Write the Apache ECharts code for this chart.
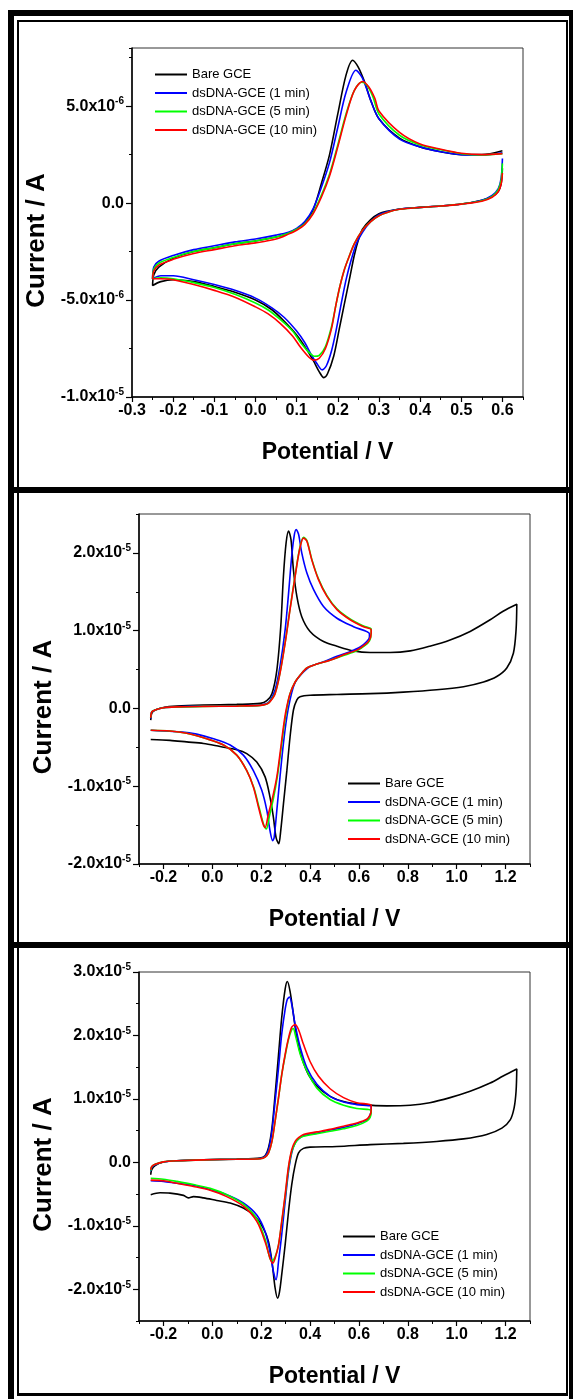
<!DOCTYPE html>
<html>
<head>
<meta charset="utf-8">
<title>CV dsDNA-GCE</title>
<script src="https://cdn.jsdelivr.net/npm/echarts@6/dist/echarts.min.js"></script>
<style>
  html, body { margin: 0; padding: 0; background: #fff; }
  #chart { width: 573px; height: 1399px; }
</style>
</head>
<body>
<div id="chart"></div>
<script>
// current values are in µA (x 1e-6 A), potentials in V; each curve is listed in scan order
const names = ['Bare GCE', 'dsDNA-GCE (1 min)', 'dsDNA-GCE (5 min)', 'dsDNA-GCE (10 min)'];
const colors = ['#000000', '#0000ff', '#00ff00', '#ff0000'];

// panel 1 tick labels
const p1XTicks = [-0.3, -0.2, -0.1, 0.0, 0.1, 0.2, 0.3, 0.4, 0.5, 0.6];
const p1YTicks = [-10, -5, 0, 5];
// panels 2 and 3 tick labels
const p23XTicks = [-0.2, 0.0, 0.2, 0.4, 0.6, 0.8, 1.0, 1.2];
const p2YTicks = [-20, -10, 0, 10, 20];
const p3YTicks = [-20, -10, 0, 10, 20, 30];

// panel 1
const p1Bare = [[0.6,1.8],[0.597,1.0],[0.59,0.6],[0.575,0.35],[0.55,0.15],[0.5,-0.05],[0.45,-0.15],[0.4,-0.22],[0.35,-0.3],[0.32,-0.42],[0.3,-0.55],[0.28,-0.85],[0.26,-1.35],[0.25,-1.9],[0.24,-2.7],[0.23,-3.75],[0.215,-5.3],[0.204,-6.45],[0.19,-7.9],[0.175,-8.8],[0.166,-9.0],[0.155,-8.7],[0.14,-8.1],[0.12,-7.4],[0.1,-6.8],[0.07,-6.1],[0.04,-5.5],[0.0,-5.0],[-0.05,-4.6],[-0.1,-4.3],[-0.15,-4.05],[-0.2,-3.95],[-0.23,-4.05],[-0.25,-4.25],
  [-0.247,-3.7],[-0.235,-3.3],[-0.2,-2.85],[-0.15,-2.5],[-0.1,-2.3],[-0.05,-2.1],[0.0,-1.95],[0.05,-1.75],[0.08,-1.55],[0.1,-1.35],[0.12,-1.0],[0.14,-0.35],[0.16,1.0],[0.18,2.5],[0.2,4.6],[0.22,6.6],[0.236,7.37],[0.25,7.0],[0.266,6.2],[0.28,5.3],[0.3,4.35],[0.35,3.35],[0.4,2.9],[0.45,2.65],[0.5,2.5],[0.55,2.5],[0.6,2.7]];
const p1Min1 = [[0.6,2.3],[0.597,1.3],[0.59,0.75],[0.575,0.4],[0.55,0.15],[0.5,-0.05],[0.45,-0.15],[0.4,-0.22],[0.35,-0.3],[0.32,-0.45],[0.3,-0.6],[0.28,-0.95],[0.26,-1.5],[0.245,-2.1],[0.233,-2.9],[0.221,-3.87],[0.21,-5.0],[0.197,-6.45],[0.185,-7.6],[0.172,-8.4],[0.162,-8.6],[0.15,-8.3],[0.135,-7.8],[0.12,-7.2],[0.1,-6.6],[0.07,-5.9],[0.04,-5.4],[0.0,-4.9],[-0.05,-4.5],[-0.1,-4.2],[-0.15,-3.95],[-0.2,-3.75],[-0.23,-3.75],[-0.25,-3.9],
  [-0.247,-3.3],[-0.235,-3.0],[-0.2,-2.7],[-0.15,-2.4],[-0.1,-2.2],[-0.05,-2.0],[0.0,-1.85],[0.05,-1.65],[0.08,-1.5],[0.1,-1.3],[0.12,-0.95],[0.14,-0.3],[0.16,0.8],[0.18,2.1],[0.2,3.9],[0.22,5.7],[0.244,6.85],[0.26,6.45],[0.28,5.3],[0.3,4.35],[0.35,3.3],[0.4,2.9],[0.45,2.65],[0.5,2.5],[0.55,2.48],[0.6,2.6]];
const p1Min5 = [[0.6,2.05],[0.597,1.2],[0.59,0.7],[0.575,0.35],[0.55,0.12],[0.5,-0.05],[0.45,-0.15],[0.4,-0.22],[0.35,-0.32],[0.32,-0.48],[0.3,-0.65],[0.28,-0.95],[0.26,-1.4],[0.24,-2.1],[0.225,-2.9],[0.215,-3.5],[0.205,-4.3],[0.195,-5.3],[0.185,-6.35],[0.17,-7.4],[0.155,-7.85],[0.143,-7.9],[0.13,-7.7],[0.11,-7.2],[0.09,-6.6],[0.06,-6.0],[0.03,-5.5],[0.0,-5.15],[-0.05,-4.7],[-0.1,-4.35],[-0.15,-4.1],[-0.2,-3.9],[-0.23,-3.85],[-0.25,-3.9],
  [-0.247,-3.4],[-0.235,-3.1],[-0.2,-2.8],[-0.15,-2.5],[-0.1,-2.3],[-0.05,-2.1],[0.0,-1.95],[0.05,-1.75],[0.08,-1.55],[0.1,-1.35],[0.12,-1.05],[0.14,-0.5],[0.16,0.4],[0.18,1.5],[0.2,3.0],[0.22,4.6],[0.24,5.8],[0.258,6.23],[0.27,6.1],[0.285,5.5],[0.3,4.6],[0.35,3.5],[0.4,3.0],[0.45,2.75],[0.5,2.55],[0.55,2.48],[0.6,2.55]];
const p1Min10 = [[0.6,1.55],[0.597,1.0],[0.59,0.6],[0.575,0.3],[0.55,0.1],[0.5,-0.05],[0.45,-0.15],[0.4,-0.22],[0.35,-0.32],[0.32,-0.48],[0.3,-0.65],[0.28,-0.95],[0.26,-1.4],[0.24,-2.1],[0.225,-2.9],[0.215,-3.5],[0.205,-4.3],[0.195,-5.3],[0.185,-6.45],[0.17,-7.5],[0.155,-8.0],[0.141,-8.1],[0.13,-7.95],[0.11,-7.45],[0.09,-6.85],[0.06,-6.2],[0.03,-5.7],[0.0,-5.35],[-0.05,-4.85],[-0.1,-4.5],[-0.15,-4.2],[-0.2,-3.95],[-0.23,-3.9],[-0.25,-3.9],
  [-0.247,-3.5],[-0.235,-3.2],[-0.2,-2.9],[-0.15,-2.6],[-0.1,-2.4],[-0.05,-2.2],[0.0,-2.05],[0.05,-1.85],[0.08,-1.6],[0.1,-1.4],[0.12,-1.1],[0.14,-0.55],[0.16,0.3],[0.18,1.4],[0.2,2.9],[0.22,4.5],[0.24,5.8],[0.26,6.27],[0.275,6.0],[0.29,5.4],[0.3,4.75],[0.35,3.65],[0.4,3.05],[0.45,2.78],[0.5,2.57],[0.55,2.5],[0.6,2.55]];

// panel 2
const p2Bare = [[-0.252,-1.5],[-0.248,-0.65],[-0.234,-0.2],[-0.2,0.13],[-0.145,0.3],[-0.036,0.43],[0.1,0.52],[0.196,0.65],[0.223,1.0],[0.244,1.9],[0.264,4.9],[0.28,10.5],[0.291,17],[0.302,21.3],[0.312,22.8],[0.322,21.7],[0.332,17.8],[0.346,14.4],[0.366,11.8],[0.4,9.9],[0.455,8.6],[0.51,8.0],[0.578,7.4],[0.646,7.2],[0.727,7.2],[0.81,7.4],[0.89,8.0],[0.973,8.8],[1.055,9.9],[1.137,11.4],[1.19,12.5],[1.246,13.4],
  [1.243,10.1],[1.232,7.1],[1.205,5.2],[1.164,4.1],[1.11,3.4],[1.028,2.8],[0.918,2.4],[0.782,2.1],[0.646,1.9],[0.51,1.8],[0.4,1.7],[0.359,1.5],[0.346,1.1],[0.332,-0.2],[0.318,-3.7],[0.305,-8.0],[0.291,-12.3],[0.28,-15.7],[0.272,-17.4],[0.261,-16.6],[0.25,-14],[0.236,-11.4],[0.216,-8.8],[0.182,-6.9],[0.141,-5.8],[0.1,-5.3],[0.032,-4.9],[-0.036,-4.5],[-0.105,-4.3],[-0.173,-4.1],[-0.252,-4.0]];
const p2Min1 = [[-0.252,-1.3],[-0.248,-0.43],[-0.234,-0.2],[-0.2,0.09],[-0.145,0.2],[-0.036,0.3],[0.1,0.34],[0.196,0.43],[0.223,0.65],[0.236,1.0],[0.257,2.4],[0.277,5.4],[0.298,10.1],[0.312,14.8],[0.325,19.6],[0.335,22.2],[0.343,23.0],[0.353,22.4],[0.366,20.0],[0.387,17.4],[0.414,15.3],[0.455,13.1],[0.51,11.6],[0.578,10.5],[0.643,9.6],
  [0.643,9.2],[0.632,8.6],[0.605,7.9],[0.564,7.3],[0.51,6.7],[0.455,6.0],[0.4,5.4],[0.373,4.7],[0.346,3.7],[0.332,2.8],[0.318,1.1],[0.305,-1.1],[0.291,-4.5],[0.277,-8.8],[0.264,-13.1],[0.253,-16.6],[0.247,-17.0],[0.236,-15.7],[0.223,-13.1],[0.202,-10.5],[0.168,-8.0],[0.127,-6.0],[0.073,-4.7],[0.005,-3.9],[-0.064,-3.3],[-0.132,-3.0],[-0.2,-2.9],[-0.252,-2.8]];
const p2Min5 = [[-0.252,-1.2],[-0.248,-0.45],[-0.234,-0.2],[-0.2,0.09],[-0.145,0.2],[-0.036,0.27],[0.1,0.31],[0.196,0.4],[0.223,0.58],[0.236,0.9],[0.257,1.95],[0.277,4.6],[0.298,8.5],[0.318,12.8],[0.339,17.1],[0.357,20.5],[0.373,22.0],[0.387,21.6],[0.407,19.2],[0.434,16.7],[0.469,14.5],[0.51,12.8],[0.564,11.5],[0.619,10.6],[0.65,10.2],
  [0.65,9.6],[0.643,8.7],[0.625,8.1],[0.591,7.4],[0.537,6.8],[0.482,6.2],[0.428,5.7],[0.387,5.2],[0.36,4.3],[0.339,3.4],[0.318,1.9],[0.304,-0.2],[0.293,-2.4],[0.279,-5.8],[0.266,-8.8],[0.25,-11.6],[0.234,-13.8],[0.221,-15.5],[0.211,-15.0],[0.192,-12.8],[0.17,-10.2],[0.141,-8.0],[0.1,-6.0],[0.046,-4.7],[-0.023,-3.9],[-0.105,-3.2],[-0.173,-2.9],[-0.252,-2.8]];
const p2Min10 = [[-0.252,-1.2],[-0.248,-0.43],[-0.234,-0.2],[-0.2,0.09],[-0.145,0.2],[-0.036,0.26],[0.1,0.3],[0.196,0.39],[0.223,0.56],[0.236,0.86],[0.257,1.9],[0.277,4.5],[0.298,8.4],[0.318,12.7],[0.339,17.0],[0.357,20.4],[0.373,21.9],[0.387,21.5],[0.407,19.1],[0.434,16.6],[0.469,14.4],[0.51,12.7],[0.564,11.4],[0.619,10.5],[0.65,10.1],
  [0.65,9.7],[0.643,8.8],[0.625,8.2],[0.591,7.5],[0.537,6.9],[0.482,6.2],[0.428,5.7],[0.387,5.2],[0.36,4.3],[0.339,3.4],[0.318,1.9],[0.302,-0.2],[0.291,-2.4],[0.277,-5.8],[0.264,-8.8],[0.247,-11.4],[0.23,-13.5],[0.216,-15.3],[0.207,-14.8],[0.189,-12.7],[0.168,-10.1],[0.141,-8.0],[0.1,-6.0],[0.046,-4.7],[-0.023,-3.9],[-0.105,-3.2],[-0.173,-2.9],[-0.252,-2.8]];

// panel 3
const p3Bare = [[-0.252,-1.95],[-0.248,-1.16],[-0.234,-0.5],[-0.2,0.05],[-0.145,0.26],[-0.036,0.42],[0.1,0.53],[0.196,0.68],[0.216,1.05],[0.23,2.3],[0.244,5.4],[0.257,10.7],[0.271,17.0],[0.284,22.8],[0.298,27.3],[0.307,28.5],[0.318,27.0],[0.332,23.3],[0.346,19.6],[0.366,16.5],[0.394,13.8],[0.428,12.0],[0.482,10.4],[0.537,9.6],[0.619,9.1],[0.714,8.9],[0.81,9.0],[0.89,9.4],[0.973,10.2],[1.055,11.2],[1.137,12.5],[1.19,13.6],[1.246,14.7],
  [1.243,11.2],[1.235,8.6],[1.219,6.7],[1.185,5.4],[1.123,4.4],[1.028,3.7],[0.918,3.3],[0.782,3.0],[0.646,2.8],[0.51,2.5],[0.4,2.4],[0.373,2.2],[0.353,1.5],[0.339,-0.4],[0.325,-3.5],[0.312,-7.7],[0.298,-13.0],[0.284,-17.7],[0.275,-20.4],[0.267,-21.4],[0.257,-19.8],[0.244,-15.6],[0.23,-12.5],[0.209,-10.4],[0.175,-8.5],[0.127,-7.2],[0.073,-6.4],[0.018,-6.0],[-0.036,-5.6],[-0.077,-5.4],[-0.098,-5.6],[-0.118,-5.2],[-0.173,-4.85],[-0.214,-4.8],[-0.252,-5.1]];
const p3Min1 = [[-0.252,-1.4],[-0.248,-0.8],[-0.234,-0.37],[-0.2,0.05],[-0.145,0.26],[-0.036,0.4],[0.1,0.5],[0.196,0.62],[0.216,0.95],[0.23,2.0],[0.244,4.9],[0.257,9.6],[0.271,14.9],[0.284,20.2],[0.298,24.1],[0.307,25.7],[0.316,26.05],[0.325,24.9],[0.339,21.7],[0.36,18.1],[0.387,14.9],[0.428,12.3],[0.482,10.4],[0.537,9.5],[0.591,9.1],[0.65,8.8],
  [0.65,8.3],[0.646,7.5],[0.632,6.7],[0.591,6.1],[0.537,5.5],[0.482,5.1],[0.428,4.6],[0.373,4.2],[0.353,3.7],[0.339,3.05],[0.325,1.5],[0.312,-1.4],[0.298,-6.2],[0.284,-11.4],[0.271,-15.6],[0.261,-18.5],[0.25,-17.2],[0.236,-14.1],[0.216,-10.9],[0.182,-8.3],[0.127,-6.4],[0.059,-5.1],[-0.009,-4.3],[-0.077,-3.6],[-0.145,-3.3],[-0.2,-3.0],[-0.252,-2.9]];
const p3Min5 = [[-0.252,-1.3],[-0.248,-0.7],[-0.234,-0.3],[-0.2,0.08],[-0.145,0.26],[-0.036,0.4],[0.1,0.48],[0.196,0.58],[0.216,0.84],[0.23,1.5],[0.244,3.3],[0.257,6.5],[0.271,10.2],[0.284,13.8],[0.298,16.8],[0.312,19.4],[0.325,20.9],[0.332,21.1],[0.339,20.2],[0.36,17.0],[0.387,14.4],[0.428,11.7],[0.482,9.9],[0.537,9.0],[0.591,8.5],[0.65,8.2],
  [0.65,7.8],[0.646,7.1],[0.632,6.5],[0.591,5.8],[0.537,5.3],[0.482,4.9],[0.428,4.5],[0.373,4.1],[0.353,3.7],[0.339,3.0],[0.325,1.7],[0.312,-0.9],[0.298,-5.4],[0.284,-9.5],[0.271,-13.0],[0.257,-14.9],[0.244,-15.5],[0.234,-14.9],[0.216,-12.1],[0.182,-8.9],[0.127,-6.6],[0.059,-5.1],[-0.009,-4.1],[-0.077,-3.5],[-0.145,-3.0],[-0.2,-2.65],[-0.252,-2.5]];
const p3Min10 = [[-0.252,-1.2],[-0.248,-0.65],[-0.234,-0.3],[-0.2,0.08],[-0.145,0.26],[-0.036,0.4],[0.1,0.48],[0.196,0.58],[0.216,0.84],[0.23,1.5],[0.244,3.3],[0.257,6.5],[0.271,10.2],[0.284,13.8],[0.298,17.0],[0.312,19.6],[0.325,21.3],[0.339,21.7],[0.353,20.9],[0.373,18.6],[0.4,15.9],[0.434,13.6],[0.482,11.6],[0.537,10.2],[0.591,9.4],[0.65,9.0],
  [0.65,8.3],[0.646,7.5],[0.632,6.8],[0.591,6.2],[0.537,5.7],[0.482,5.2],[0.428,4.8],[0.373,4.4],[0.353,3.9],[0.339,3.3],[0.325,2.0],[0.312,-0.6],[0.298,-5.1],[0.284,-9.3],[0.271,-13.0],[0.257,-15.1],[0.247,-15.9],[0.236,-15.1],[0.216,-12.5],[0.182,-9.3],[0.127,-6.9],[0.059,-5.4],[-0.009,-4.4],[-0.077,-3.8],[-0.145,-3.3],[-0.2,-2.9],[-0.252,-2.8]];

const curves = [
    [p1Bare, p1Min1, p1Min5, p1Min10],
    [p2Bare, p2Min1, p2Min5, p2Min10],
    [p3Bare, p3Min1, p3Min5, p3Min10]
];

const FONT = '"Liberation Sans", Arial, Helvetica, sans-serif';

// layout of the three panels (pixels)
const panels = [
    {grid: {left: 132, top: 48, width: 391, height: 349},
     x: {min: -0.3, max: 0.65, ticks: p1XTicks, minor: 0.05},
     y: {min: -10, max: 8, ticks: p1YTicks, minor: 2.5},
     legend: {left: 150, top: 63}},
    {grid: {left: 139, top: 514, width: 391, height: 350},
     x: {min: -0.3, max: 1.3, ticks: p23XTicks, minor: 0.1},
     y: {min: -20, max: 25, ticks: p2YTicks, minor: 5},
     legend: {left: 343, top: 772}},
    {grid: {left: 139, top: 972, width: 391, height: 349},
     x: {min: -0.3, max: 1.3, ticks: p23XTicks, minor: 0.1},
     y: {min: -25, max: 30, ticks: p3YTicks, minor: 5},
     legend: {left: 338, top: 1225}}
];

function yLabel(v) {
    if (Math.abs(v) < 1e-9) return '{b|0.0}';
    const e = Math.floor(Math.log10(Math.abs(v)) + 1e-9);
    const m = v / Math.pow(10, e);
    return '{b|' + m.toFixed(1) + 'x10}{s|' + (e - 6) + '}';
}

const grids = [], xAxes = [], yAxes = [], legends = [], series = [];

panels.forEach(function (p, i) {
    grids.push(Object.assign({show: true, borderColor: '#333', borderWidth: 1}, p.grid));

    xAxes.push({
        gridIndex: i, type: 'value', position: 'bottom', min: p.x.min, max: p.x.max,
        name: 'Potential / V', nameLocation: 'middle', nameGap: 44,
        nameTextStyle: {fontSize: 23, fontWeight: 'bold', color: '#000', fontFamily: FONT},
        axisLine: {onZero: false, lineStyle: {color: '#000', width: 1.5}},
        axisTick: {customValues: p.x.ticks, length: 5, lineStyle: {color: '#000', width: 1.2}},
        axisLabel: {customValues: p.x.ticks, margin: 6, fontSize: 16, fontWeight: 'bold', color: '#000', fontFamily: FONT,
                    formatter: function (v) { return v.toFixed(1); }},
        splitLine: {show: false}
    });
    xAxes.push({
        gridIndex: i, type: 'value', position: 'bottom', min: p.x.min, max: p.x.max, interval: p.x.minor,
        axisLine: {show: false, onZero: false},
        axisTick: {length: 3, lineStyle: {color: '#000', width: 1}},
        axisLabel: {show: false}, splitLine: {show: false}
    });

    yAxes.push({
        gridIndex: i, type: 'value', position: 'left', min: p.y.min, max: p.y.max,
        name: 'Current / A', nameLocation: 'middle', nameGap: 80, nameRotate: 90,
        nameTextStyle: {fontSize: 26, fontWeight: 'bold', color: '#000', fontFamily: FONT, padding: [0, 36, 0, 0]},
        axisLine: {onZero: false, lineStyle: {color: '#000', width: 1.5}},
        axisTick: {customValues: p.y.ticks, length: 6, lineStyle: {color: '#000', width: 1.2}},
        axisLabel: {customValues: p.y.ticks, margin: 8, color: '#000', formatter: yLabel,
                    rich: {b: {fontSize: 16, fontWeight: 'bold', fontFamily: FONT, color: '#000'},
                           s: {fontSize: 10, fontWeight: 'bold', fontFamily: FONT, color: '#000', padding: [0, 0, 9, 0]}}},
        splitLine: {show: false}
    });
    yAxes.push({
        gridIndex: i, type: 'value', position: 'left', min: p.y.min, max: p.y.max, interval: p.y.minor,
        axisLine: {show: false, onZero: false},
        axisTick: {length: 3, lineStyle: {color: '#000', width: 1}},
        axisLabel: {show: false}, splitLine: {show: false}
    });

    legends.push({
        orient: 'vertical', left: p.legend.left, top: p.legend.top,
        data: names, icon: 'rect', itemWidth: 32, itemHeight: 2, itemGap: 5.5,
        textStyle: {fontSize: 13, color: '#000', fontFamily: FONT}
    });

    curves[i].forEach(function (d, k) {
        series.push({
            type: 'line', name: names[k], xAxisIndex: 2 * i, yAxisIndex: 2 * i,
            data: d, symbol: 'none', showSymbol: false, smooth: 0.3,
            lineStyle: {color: colors[k], width: 1.6}, itemStyle: {color: colors[k]}
        });
    });
});

// black double frame around the panels
function bar(x, y, w, h) {
    return {type: 'rect', shape: {x: x, y: y, width: w, height: h}, style: {fill: '#000'}, silent: true};
}
const frame = [
    bar(8, 10, 6, 1389), bar(17, 20, 2, 1376), bar(8, 10, 565, 6), bar(17, 20, 550, 2),
    bar(8, 487, 565, 6), bar(8, 942, 565, 6), bar(17, 1393, 551, 3),
    bar(566, 20, 2, 1376), bar(569, 10, 4, 1389)
];

const myChart = echarts.init(document.getElementById('chart'));
myChart.setOption({
    animation: false,
    backgroundColor: '#fff',
    textStyle: {fontFamily: FONT},
    grid: grids,
    xAxis: xAxes,
    yAxis: yAxes,
    legend: legends,
    series: series,
    graphic: {elements: frame}
});
</script>
</body>
</html>
